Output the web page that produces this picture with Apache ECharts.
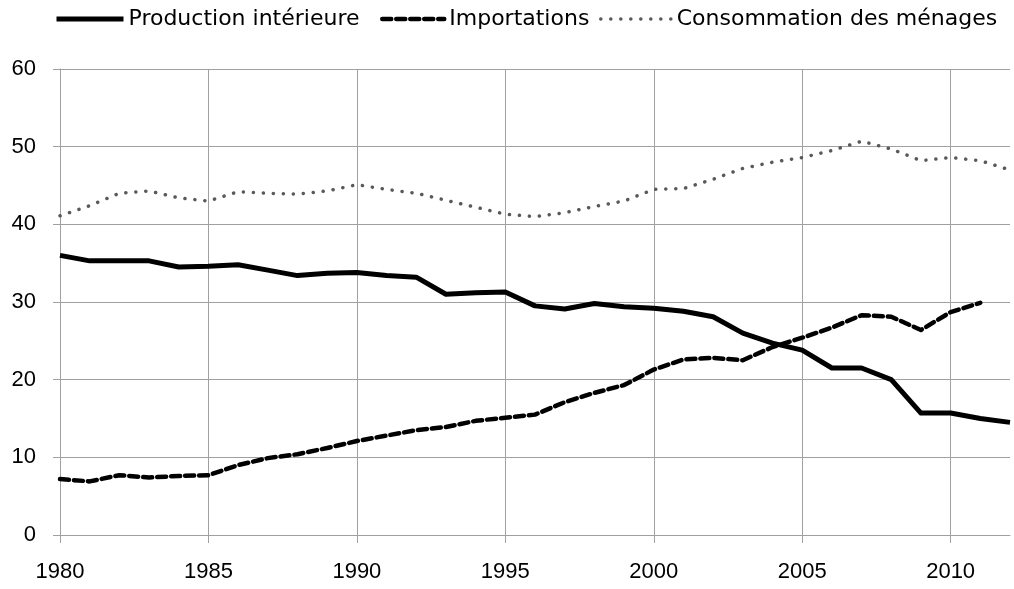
<!DOCTYPE html>
<html>
<head>
<meta charset="utf-8">
<title>Production, importations, consommation</title>
<script src="https://cdn.jsdelivr.net/npm/echarts@6/dist/echarts.min.js"></script>
<style>
  html, body { margin: 0; padding: 0; background: #fff; }
  #chart { width: 1014px; height: 589px; }
</style>
</head>
<body>
<div id="chart"></div>
<script type="text/javascript">
    var years = [];
    for (var y = 1980; y <= 2012; y++) { years.push(String(y)); }

    // valeurs
    var production = [36.0, 35.3, 35.3, 35.3, 34.5, 34.6, 34.8, 34.1, 33.4, 33.7,
                      33.8, 33.4, 33.2, 31.0, 31.2, 31.3, 29.5, 29.1, 29.8, 29.4,
                      29.2, 28.8, 28.1, 26.0, 24.7, 23.8, 21.5, 21.5, 20.0, 15.7,
                      15.7, 15.0, 14.5];
    var importations = [7.2, 6.9, 7.7, 7.4, 7.6, 7.7, 9.0, 9.9, 10.4, 11.2,
                        12.1, 12.8, 13.5, 13.9, 14.7, 15.1, 15.5, 17.1, 18.3, 19.3,
                        21.3, 22.6, 22.8, 22.5, 24.2, 25.4, 26.7, 28.3, 28.1, 26.4,
                        28.7, 29.9, null];
    var consommation = [41.1, 42.4, 44.0, 44.3, 43.4, 43.0, 44.2, 44.0, 43.9, 44.3,
                        45.1, 44.5, 44.0, 43.1, 42.2, 41.3, 41.0, 41.5, 42.3, 43.0,
                        44.5, 44.6, 45.8, 47.2, 48.0, 48.6, 49.5, 50.7, 49.7, 48.2,
                        48.6, 48.2, 47.0];
    var yTicks = [0, 10, 20, 30, 40, 50, 60];

    var chart = echarts.init(document.getElementById('chart'));

    var every5 = function (index, value) { return Number(value) % 5 === 0; };
    var legendText = { fontFamily: 'DejaVu Sans', fontSize: 22, color: '#000' };
    // pas de rond sur les icônes de légende
    var noDot = { opacity: 0 };

    var option = {
      animation: false,
      backgroundColor: '#fff',
      grid: { left: 60, right: 4, top: 69, bottom: 54 },
      legend: [
        { left: 49, top: 3, itemWidth: 67, itemHeight: 14, data: ['Production intérieure'], textStyle: legendText,
          itemStyle: noDot, lineStyle: { width: 5, color: '#000' } },
        { left: 375, top: 3, itemWidth: 62, itemHeight: 14, data: ['Importations'], textStyle: legendText,
          itemStyle: noDot, lineStyle: { width: 4.5, color: '#000', type: [9, 5], cap: 'round' } },
        { left: 594, top: 3, itemWidth: 71, itemHeight: 14, data: ['Consommation des ménages'], textStyle: legendText,
          itemStyle: noDot, lineStyle: { width: 3.5, color: '#595959', type: [0.1, 9.9], cap: 'round' } }
      ],
      xAxis: {
        type: 'category',
        data: years,
        boundaryGap: false,
        axisLine: { lineStyle: { color: '#a0a0a0', width: 1 } },
        axisTick: { show: true, length: 8, interval: every5, lineStyle: { color: '#a0a0a0' } },
        axisLabel: {
          interval: every5,
          margin: 26,
          fontFamily: 'Liberation Sans',
          fontSize: 22,
          color: '#000'
        },
        splitLine: { show: true, interval: every5, lineStyle: { color: '#a0a0a0', width: 1 } }
      },
      yAxis: {
        type: 'value',
        min: yTicks[0],
        max: yTicks[yTicks.length - 1],
        interval: 10,
        axisLine: { show: true, lineStyle: { color: '#a0a0a0', width: 1 } },
        axisTick: { show: true, length: 7, lineStyle: { color: '#a0a0a0' } },
        axisLabel: {
          margin: 24,
          fontFamily: 'Liberation Sans',
          fontSize: 22,
          color: '#000'
        },
        splitLine: { show: true, lineStyle: { color: '#a0a0a0', width: 1 } }
      },
      series: [
        {
          name: 'Production intérieure',
          type: 'line',
          data: production,
          symbol: 'none',
          color: '#000',
          lineStyle: { color: '#000', width: 5, join: 'round' }
        },
        {
          name: 'Importations',
          type: 'line',
          data: importations,
          symbol: 'none',
          color: '#000',
          lineStyle: { color: '#000', width: 4.5, type: [9, 5], cap: 'round', join: 'round' }
        },
        {
          name: 'Consommation des ménages',
          type: 'line',
          data: consommation,
          symbol: 'none',
          color: '#595959',
          lineStyle: { color: '#595959', width: 3.5, type: [0.1, 9.9], cap: 'round' }
        }
      ]
    };

    chart.setOption(option);
</script>
</body>
</html>
